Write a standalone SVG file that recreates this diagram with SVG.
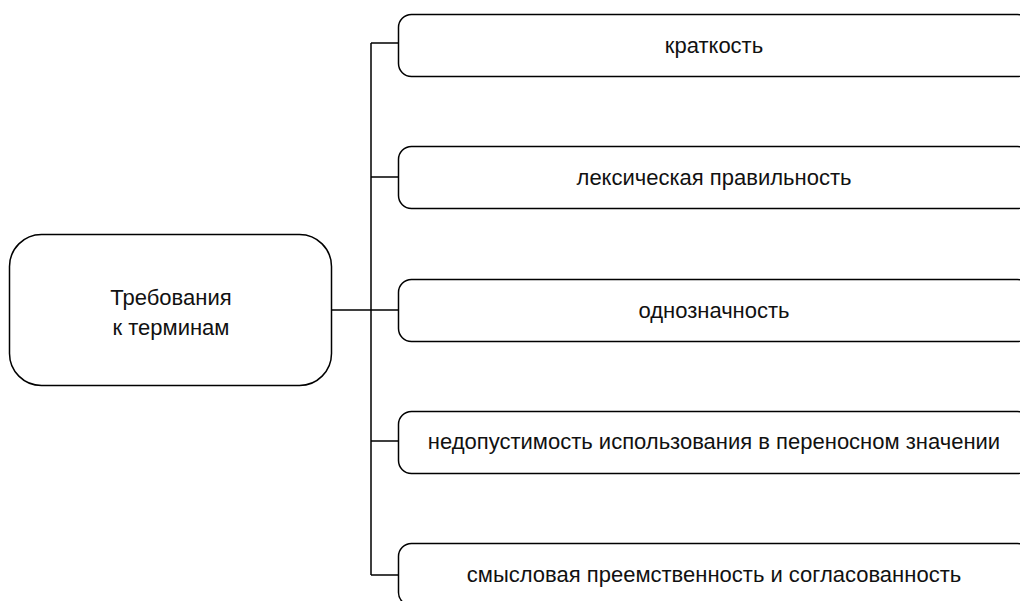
<svg xmlns="http://www.w3.org/2000/svg" width="1020" height="601" viewBox="0 0 1020 601">
<style>
.box{fill:#fff;stroke:#000;stroke-width:1.5}
.t{font-family:"Liberation Sans",Arial,sans-serif;font-size:22px;fill:#111;text-anchor:middle}
.c{fill:none;stroke:#000;stroke-width:1.5}
</style>
<rect width="1020" height="601" fill="#fff"/>
<g id="connectors">
<path class="c" d="M332 310H398M371 43V575M371 43H398M371 177H398M371 441H398M371 575H398"/>
</g>
<g id="root">
<rect class="box" x="9.5" y="234.5" width="322" height="151" rx="32"/>
<text class="t" x="171" y="305">Требования</text>
<text class="t" x="171" y="335">к терминам</text>
</g>
<g id="n1">
<rect class="box" x="398.5" y="14.5" width="632" height="62" rx="13"/>
<text class="t" x="714" y="53">краткость</text>
</g>
<g id="n2">
<rect class="box" x="398.5" y="146.5" width="632" height="62" rx="13"/>
<text class="t" x="714" y="185">лексическая правильность</text>
</g>
<g id="n3">
<rect class="box" x="398.5" y="279.5" width="632" height="62" rx="13"/>
<text class="t" x="714" y="318">однозначность</text>
</g>
<g id="n4">
<rect class="box" x="398.5" y="411.5" width="632" height="62" rx="13"/>
<text class="t" x="714" y="449">недопустимость использования в переносном значении</text>
</g>
<g id="n5">
<rect class="box" x="398.5" y="543.5" width="632" height="62" rx="13"/>
<text class="t" x="714" y="582">смысловая преемственность и согласованность</text>
</g>
</svg>
